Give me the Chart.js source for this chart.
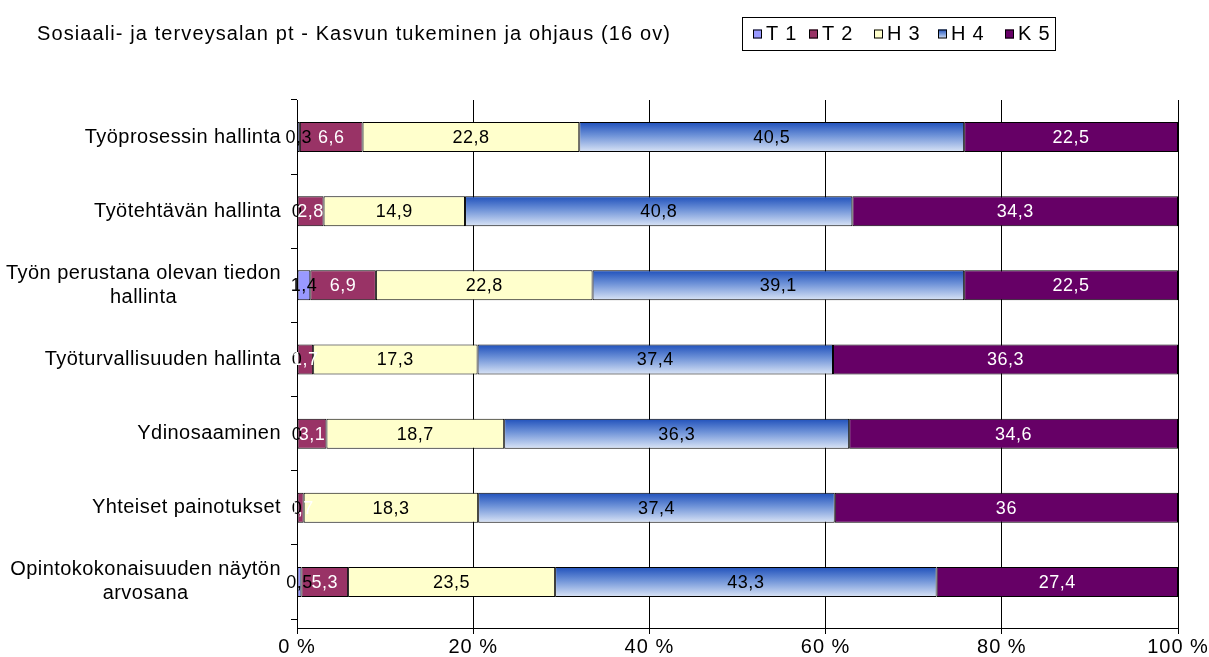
<!DOCTYPE html>
<html>
<head>
<meta charset="utf-8">
<script src="https://cdn.jsdelivr.net/npm/chart.js@4.4.1/dist/chart.umd.min.js"></script>
<style>
    html, body { margin: 0; padding: 0; background: #fff; }
    #wrap { width: 1209px; height: 657px; }
</style>
</head>
<body>
<div id="wrap"><canvas id="chart" width="1209" height="657"></canvas></div>
<script>
// ============ DATA ============
const TITLE = 'Sosiaali- ja terveysalan pt - Kasvun tukeminen ja ohjaus (16 ov)';
const categories = [
    'Työprosessin hallinta',
    'Työtehtävän hallinta',
    ['Työn perustana olevan tiedon', 'hallinta'],
    'Työturvallisuuden hallinta',
    'Ydinosaaminen',
    'Yhteiset painotukset',
    ['Opintokokonaisuuden näytön', 'arvosana']
];
const seriesNames = ['T 1', 'T 2', 'H 3', 'H 4', 'K 5'];
const t1 = [0.3, 0, 1.4, 0, 0, 0, 0.5];
const t2 = [6.6, 2.8, 6.9, 1.7, 3.1, 0.7, 5.3];
const h3 = [22.8, 14.9, 22.8, 17.3, 18.7, 18.3, 23.5];
const h4 = [40.5, 40.8, 39.1, 37.4, 36.3, 37.4, 43.3];
const k5 = [22.5, 34.3, 22.5, 36.3, 34.6, 36, 27.4];
const xTicks = [0, 20, 40, 60, 80, 100];

// ============ STYLE ============
const FONT = '"Liberation Sans", Arial, sans-serif';
const SERIES_COLORS = ['#9999FF', '#993366', '#FFFFCC', null, '#660066'];
const LABEL_COLORS = ['#000', '#fff', '#000', '#000', '#fff'];
const BAR_PCT = 0.405;
const BAND_BOTTOM = 619;   // categories end a little above the x axis

const series = [t1, t2, h3, h4, k5];
const rowSums = categories.map((_, i) => series.reduce((s, arr) => s + arr[i], 0));

Chart.defaults.font.family = FONT;
Chart.defaults.color = '#000';

function fmt(v) {
    return String(v).replace('.', ',');
}

function blueGradient(ctx, top, bottom) {
    const g = ctx.createLinearGradient(0, top, 0, bottom);
    g.addColorStop(0, '#1f50bb');
    g.addColorStop(0.45, '#6f93d8');
    g.addColorStop(1, '#dbe5f6');
    return g;
}

function h4Color(c) {
    const chart = c.chart;
    const y = chart.scales && chart.scales.y;
    if (c.dataIndex === undefined || !y || !chart.chartArea) return '#5b84d2';
    const step = y.getPixelForTick(1) - y.getPixelForTick(0);
    const h = Math.abs(step) * BAR_PCT;
    const mid = y.getPixelForValue(c.dataIndex);
    return blueGradient(chart.ctx, mid - h / 2, mid + h / 2);
}

const datasets = series.map((vals, k) => ({
    label: seriesNames[k],
    raw: vals,
    data: vals.map((v, i) => v / rowSums[i] * 100),
    backgroundColor: SERIES_COLORS[k] || h4Color,
    borderColor: '#000',
    borderWidth: 1,
    borderSkipped: false,
    barPercentage: BAR_PCT,
    categoryPercentage: 1
}));

// shrink the category band so it stops short of the x axis
const bandPlugin = {
    id: 'band',
    afterLayout(chart) {
        const y = chart.scales.y;
        y._endPixel = BAND_BOTTOM;
        y._length = y._endPixel - y._startPixel;
    },
    beforeDraw(chart) {
        chart.ctx.letterSpacing = '1px';
    }
};

// title, legend, category labels and value labels
const decorPlugin = {
    id: 'decor',
    afterDraw(chart) {
        const ctx = chart.ctx;
        ctx.save();

        // title
        ctx.fillStyle = '#000';
        ctx.letterSpacing = '1.1px';
        ctx.font = '20px ' + FONT;
        ctx.textAlign = 'left';
        ctx.textBaseline = 'middle';
        ctx.fillText(TITLE, 37, 34);

        // legend box
        const lx = 742, ly = 17, lw = 313, lh = 33;
        ctx.strokeStyle = '#000';
        ctx.lineWidth = 1;
        ctx.strokeRect(lx + 0.5, ly + 0.5, lw, lh);
        const boxX = [753, 809, 874, 938, 1005];
        ctx.letterSpacing = '0.8px';
        seriesNames.forEach((name, k) => {
            const bx = boxX[k], by = ly + lh / 2 - 4;
            ctx.fillStyle = SERIES_COLORS[k] || blueGradient(ctx, by, by + 9);
            ctx.fillRect(bx, by, 9, 9);
            ctx.strokeRect(bx + 0.5, by + 0.5, 8, 8);
            ctx.fillStyle = '#000';
            ctx.fillText(name, bx + 13, ly + lh / 2 + 1);
        });

        // category labels: block right aligned, lines centred
        const y = chart.scales.y;
        ctx.letterSpacing = '0.45px';
        ctx.textAlign = 'center';
        categories.forEach((cat, i) => {
            const lines = Array.isArray(cat) ? cat : [cat];
            const w = Math.max(...lines.map(l => ctx.measureText(l).width));
            const cx = 281 - w / 2;
            const mid = y.getPixelForValue(i);
            const lineH = 24;
            lines.forEach((l, j) => {
                ctx.fillText(l, cx, mid + (j - (lines.length - 1) / 2) * lineH);
            });
        });

        // value labels
        ctx.letterSpacing = '0.5px';
        ctx.font = '18px ' + FONT;
        chart.data.datasets.forEach((ds, k) => {
            const meta = chart.getDatasetMeta(k);
            ctx.fillStyle = LABEL_COLORS[k];
            meta.data.forEach((bar, i) => {
                const p = bar.getCenterPoint();
                ctx.fillText(fmt(ds.raw[i]), p.x, p.y + 1);
            });
        });

        ctx.restore();
    }
};

new Chart(document.getElementById('chart'), {
    type: 'bar',
    data: { labels: categories, datasets: datasets },
    options: {
        responsive: false,
        animation: false,
        devicePixelRatio: 1,
        indexAxis: 'y',
        layout: { padding: { top: 100, right: 31, bottom: 0, left: 0 } },
        plugins: {
            legend: { display: false },
            title: { display: false },
            tooltip: { enabled: false }
        },
        scales: {
            x: {
                stacked: true,
                min: 0,
                max: 100,
                afterBuildTicks: s => { s.ticks = xTicks.map(v => ({ value: v })); },
                afterFit: s => { s.height = 29; },
                ticks: {
                    callback: v => v + ' %',
                    font: { size: 20 },
                    color: '#000',
                    padding: 1,
                    maxRotation: 0
                },
                grid: { color: '#000', lineWidth: 1, drawTicks: true, tickLength: 6, tickColor: '#000' },
                border: { display: true, color: '#000' }
            },
            y: {
                stacked: true,
                afterFit: s => { s.width = 297; },
                ticks: { display: false },
                grid: { drawOnChartArea: false, drawTicks: true, tickLength: 6, color: '#000', offset: true },
                border: { display: true, color: '#000' }
            }
        }
    },
    plugins: [bandPlugin, decorPlugin]
});
</script>
</body>
</html>
